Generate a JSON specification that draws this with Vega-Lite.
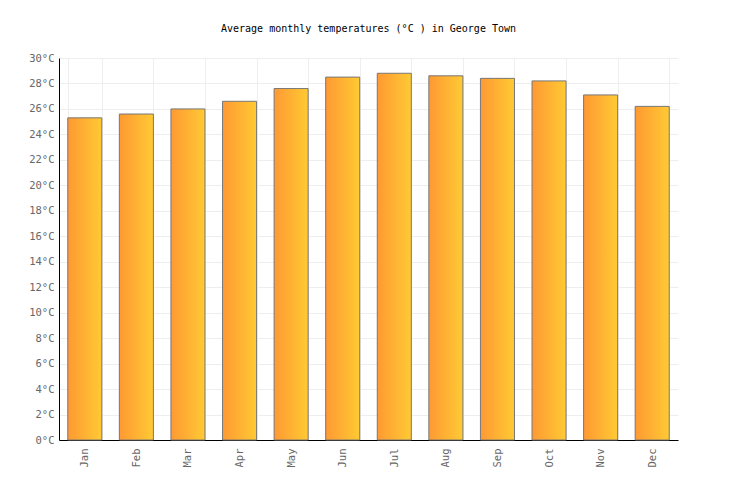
{
  "$schema": "https://vega.github.io/schema/vega-lite/v6.json",
  "width": 619,
  "height": 382,
  "autosize": {"type": "none"},
  "padding": {"left": 59, "top": 58, "right": 58, "bottom": 60},
  "background": "white",
  "title": {
    "text": "Average monthly temperatures (°C ) in George Town",
    "font": "DejaVu Sans Mono",
    "fontSize": 10,
    "fontWeight": "normal",
    "color": "#000000",
    "offset": 19,
    "anchor": "middle"
  },
  "config": {
    "view": {"stroke": null},
    "axis": {
      "labelFont": "DejaVu Sans Mono",
      "labelFontSize": 10.5,
      "labelColor": "#666666",
      "gridColor": "#eeeeee",
      "gridWidth": 1,
      "domainColor": "#000000",
      "domainWidth": 1,
      "ticks": false,
      "title": null
    }
  },
  "data": {
    "values": [
      {"month": "Jan", "temp": 25.3},
      {"month": "Feb", "temp": 25.6},
      {"month": "Mar", "temp": 26.0},
      {"month": "Apr", "temp": 26.6},
      {"month": "May", "temp": 27.6},
      {"month": "Jun", "temp": 28.5},
      {"month": "Jul", "temp": 28.8},
      {"month": "Aug", "temp": 28.6},
      {"month": "Sep", "temp": 28.4},
      {"month": "Oct", "temp": 28.2},
      {"month": "Nov", "temp": 27.1},
      {"month": "Dec", "temp": 26.2}
    ]
  },
  "mark": {
    "type": "bar",
    "stroke": "#777777",
    "strokeWidth": 1,
    "color": {
      "gradient": "linear",
      "x1": 0, "y1": 0, "x2": 1, "y2": 0,
      "stops": [
        {"offset": 0, "color": "#ff9933"},
        {"offset": 1, "color": "#ffca33"}
      ]
    }
  },
  "encoding": {
    "x": {
      "field": "month",
      "type": "nominal",
      "sort": null,
      "scale": {"paddingInner": 0.34, "paddingOuter": 0.17},
      "axis": {
        "labelAngle": -90,
        "labelAlign": "right",
        "labelBaseline": "middle",
        "labelPadding": 8,
        "grid": true,
        "tickBand": "extent"
      }
    },
    "y": {
      "field": "temp",
      "type": "quantitative",
      "scale": {"domain": [0, 30], "nice": false},
      "axis": {
        "values": [0, 2, 4, 6, 8, 10, 12, 14, 16, 18, 20, 22, 24, 26, 28, 30],
        "labelExpr": "datum.value + '°C'",
        "labelPadding": 5,
        "grid": true
      }
    }
  }
}
